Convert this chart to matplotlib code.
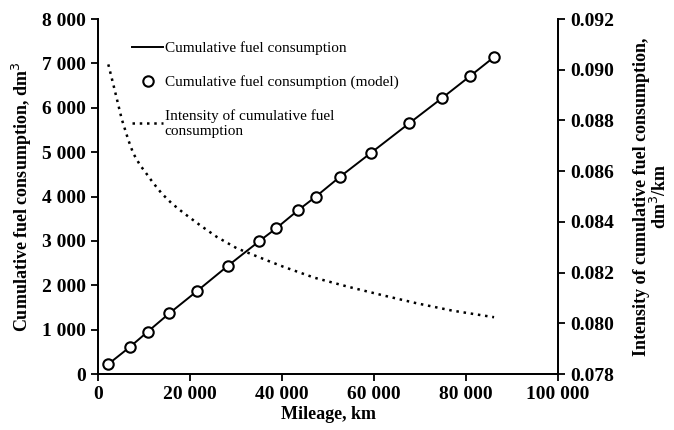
import matplotlib.pyplot as plt
import numpy as np

plt.rcParams['font.family'] = ['Liberation Serif', 'DejaVu Serif']

# cumulative fuel consumption (markers + line)
mileage = [2200, 7000, 10800, 15500, 21450, 28260, 35070, 38700, 43540,
           47300, 52600, 59350, 67600, 74850, 80870, 86150]
fuel = [220, 615, 953, 1367, 1862, 2440, 2995, 3280, 3694,
        3993, 4444, 4984, 5646, 6223, 6712, 7147]

# intensity of cumulative fuel consumption
int_mileage = [2240, 3330, 4070, 5150, 6590, 7670, 9130, 10220, 11890, 13850,
               16020, 18540, 22170, 25800, 30150, 37020, 40300, 47000, 54400,
               62000, 69270, 77000, 86100]
intensity = [0.09021, 0.08942, 0.08887, 0.08806, 0.08723, 0.08670, 0.08624, 0.08598,
             0.08556, 0.08512, 0.08473, 0.08436, 0.08387, 0.08341, 0.08296, 0.08246,
             0.08223, 0.08180, 0.08144, 0.08110, 0.08079, 0.08050, 0.08024]

fig = plt.figure(figsize=(6.74, 4.30), dpi=100)
ax = fig.add_axes([0.1454, 0.1302, 0.6825, 0.8256])
ax2 = ax.twinx()

l1, = ax.plot(mileage, fuel, color='black', lw=1.4, label='Cumulative fuel consumption')
l2, = ax.plot(mileage, fuel, ls='none', marker='o', ms=7.5, mfc='white', mec='black',
              mew=1.5, label='Cumulative fuel consumption (model)')
l3, = ax2.plot(int_mileage, intensity, color='black', lw=1.8, ls=(0, (1, 1.9)),
               label='Intensity of cumulative fuel\nconsumption')

ax.set_xlim(0, 100000)
ax.set_ylim(0, 8000)
ax2.set_ylim(0.078, 0.092)
ax.set_xticks(np.arange(0, 100001, 20000))
ax.set_yticks(np.arange(0, 8001, 1000))
ax2.set_yticks(np.arange(0.078, 0.0921, 0.002))

fmt = lambda v: '{:,}'.format(int(v)).replace(',', ' ')
ax.set_xticklabels([fmt(v) for v in ax.get_xticks()])
ax.set_yticklabels([fmt(v) for v in ax.get_yticks()])
ax2.set_yticklabels(['{:.3f}'.format(v) for v in ax2.get_yticks()])

for a in (ax, ax2):
    a.spines['top'].set_visible(False)
    for s in a.spines.values():
        s.set_linewidth(1.3)
    a.tick_params(labelsize=14, width=1.3, length=5)
    for t in a.get_xticklabels() + a.get_yticklabels():
        t.set_fontweight('bold')

ax.set_xlabel('Mileage, km', fontsize=13, fontweight='bold', labelpad=2)
ax.set_ylabel('Cumulative fuel consumption, dm$^3$', fontsize=13, fontweight='bold', labelpad=6)
ax2.set_ylabel('Intensity of cumulative fuel consumption,\ndm$^3$/km', fontsize=13,
               fontweight='bold', labelpad=14, linespacing=0.95)

leg = ax.legend(handles=[l1, l2, l3], loc='upper left', bbox_to_anchor=(0.045, 0.975),
                frameon=False, fontsize=11, handlelength=2.0, handletextpad=0.1,
                labelspacing=1.3)
for t in leg.get_texts():
    t.set_linespacing(1.25)

fig.savefig('out.png', dpi=100)
